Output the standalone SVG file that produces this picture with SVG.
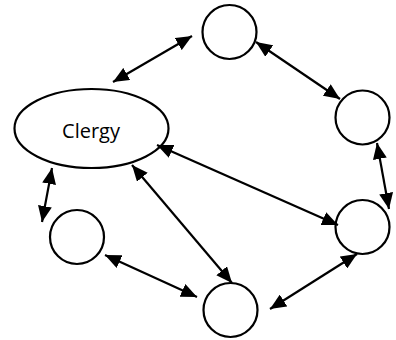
<svg xmlns="http://www.w3.org/2000/svg" width="396" height="340" viewBox="0 0 396 340">
<defs>
<marker id="ah" viewBox="0 0 16 14" refX="16" refY="7" markerWidth="16" markerHeight="14" markerUnits="userSpaceOnUse" orient="auto-start-reverse">
<path d="M0,0 L16,7 L0,14 Z" fill="#000"/>
</marker>
<style>
.n{fill:#fff;stroke:#000;stroke-width:2.2}
.c line{stroke:#000;stroke-width:2.2;marker-start:url(#ah);marker-end:url(#ah)}
.t{font-family:"Open Sans","Liberation Sans",Arial,sans-serif;font-size:20px;fill:#000}
</style>
</defs>
<g id="clergy"><ellipse class="n" cx="91.5" cy="128.5" rx="77" ry="39.5"/><text class="t" x="91" y="138" text-anchor="middle">Clergy</text></g>
<g id="top"><circle class="n" cx="229.5" cy="32" r="27"/></g>
<g id="right1"><circle class="n" cx="362.5" cy="117.5" r="27"/></g>
<g id="right2"><circle class="n" cx="362.5" cy="227" r="27"/></g>
<g id="bottom"><circle class="n" cx="230.5" cy="310" r="27"/></g>
<g id="left"><circle class="n" cx="77" cy="237" r="27"/></g>
<g class="c" id="connectors">
<line x1="113" y1="82" x2="192" y2="36"/>
<line x1="256" y1="42" x2="340" y2="99"/>
<line x1="377" y1="143" x2="389" y2="209"/>
<line x1="157" y1="145" x2="338" y2="225"/>
<line x1="357" y1="254" x2="270" y2="309"/>
<line x1="105" y1="255" x2="197" y2="297"/>
<line x1="132" y1="165" x2="232" y2="283"/>
<line x1="52" y1="168" x2="42" y2="222"/>
</g>
</svg>
